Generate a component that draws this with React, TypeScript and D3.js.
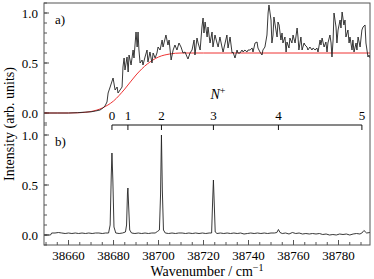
import React from "react";
import * as d3 from "d3";

// ---- data ----
const topWn = [38649.0,38655,38660,38664,38667,38670,38672,38674,38675.3,38676.2,38677.1,38677.6,38678.5,38679.8,38680.7,38681.6,38682.0,38683.8,38684.2,38684.7,38685.1,38686.0,38686.5,38686.9,38687.8,38688.7,38689.1,38690.0,38690.5,38690.9,38691.3,38691.8,38692.7,38693.1,38694.0,38694.9,38695.3,38696.2,38697.1,38697.6,38698.5,38699.3,38699.8,38700.7,38701.6,38702.0,38703.3,38704.2,38704.7,38705.6,38706.5,38707.3,38708.2,38709.1,38710.0,38710.9,38711.8,38712.7,38713.1,38714.0,38714.9,38715.8,38716.2,38717.1,38717.6,38718.5,38719.3,38719.8,38720.2,38720.7,38721.6,38722.0,38722.9,38723.8,38724.2,38725.1,38726.0,38726.5,38727.3,38728.2,38728.7,38729.6,38730.4,38730.9,38731.8,38732.7,38733.1,38734.0,38734.9,38735.3,38736.2,38737.1,38737.6,38738.4,38739.3,38739.8,38740.7,38741.6,38742.0,38742.9,38743.8,38744.2,38745.1,38746.0,38746.4,38747.3,38748.2,38748.7,38749.1,38750.0,38750.4,38750.9,38751.3,38752.2,38752.7,38753.1,38753.6,38754.4,38754.9,38755.3,38756.2,38756.7,38757.1,38758.0,38758.4,38759.3,38759.8,38760.7,38761.6,38762.0,38762.4,38763.3,38763.8,38764.7,38765.1,38766.0,38766.4,38767.3,38768.2,38768.7,38769.6,38770.4,38770.9,38771.8,38772.2,38772.7,38773.6,38774.4,38774.9,38775.3,38776.2,38776.7,38777.1,38777.6,38778.0,38778.9,38779.3,38779.8,38780.7,38781.1,38781.6,38782.4,38782.9,38783.3,38784.2,38784.7,38785.1,38786.0,38786.4,38786.9,38787.8,38788.2,38788.7,38789.6,38790.4,38790.9,38791.8,38792.2,38793.1,38793.6,38794.0];
const topVal = [0.0,0.0,0.0,0.003,0.008,0.012,0.02,0.03,0.05,0.07,0.11,0.2,0.26,0.35,0.23,0.26,0.20,0.26,0.46,0.55,0.43,0.56,0.41,0.58,0.48,0.63,0.55,0.81,0.66,0.81,0.63,0.50,0.53,0.48,0.56,0.63,0.51,0.61,0.50,0.60,0.55,0.60,0.66,0.63,0.73,0.66,0.78,0.68,0.73,0.53,0.63,0.68,0.63,0.70,0.66,0.60,0.61,0.56,0.54,0.60,0.63,0.73,0.58,0.75,0.70,0.63,0.86,0.95,0.80,0.91,0.76,0.86,0.70,0.81,0.66,0.78,0.70,0.66,0.76,0.66,0.61,0.70,0.78,0.65,0.76,0.60,0.61,0.55,0.63,0.60,0.60,0.63,0.61,0.63,0.61,0.63,0.63,0.65,0.61,0.70,0.71,0.65,0.61,0.58,0.63,0.66,0.78,1.00,1.08,0.93,0.70,0.78,0.96,0.83,0.76,0.91,0.88,0.73,0.80,0.70,0.76,0.61,0.71,0.65,0.75,0.70,0.78,0.70,0.85,0.76,0.63,0.76,0.63,0.70,0.68,0.66,0.63,0.66,0.63,0.65,0.63,0.65,0.61,0.73,0.68,0.75,0.66,0.71,0.61,0.70,0.78,0.70,0.56,0.73,1.00,0.86,0.70,0.83,0.93,0.85,1.01,0.88,0.93,0.76,0.83,0.70,0.76,0.63,0.73,0.61,0.70,0.63,0.76,0.66,0.83,0.86,0.88,0.70,0.56,0.58,0.55];

const fitWn = [38649,38660,38665,38670,38675,38680,38685,38690,38695,38700,38705,38710,38720,38794];
const fitVal = [0.0,0.0,0.003,0.015,0.05,0.12,0.24,0.38,0.49,0.56,0.59,0.6,0.6,0.6];

const botWn = [38649,38651,38652,38652.5,38654,38655.5,38657,38658.5,38660,38661.5,38663,38664.5,38666,38667.5,38669,38670.5,38672,38673.5,38675,38676.5,38677.8,38678.5,38679.0,38679.3,38679.7,38680.2,38681,38682.5,38684,38685.3,38685.8,38686.2,38686.4,38686.7,38687.2,38688,38689.5,38691,38692.5,38694,38695.5,38697,38698.5,38699.5,38700.4,38700.9,38701.3,38701.7,38702.2,38703,38704.5,38706,38707.5,38709,38710.5,38712,38713.5,38715,38716.5,38718,38719.5,38721,38722.5,38723.6,38724.0,38724.4,38724.8,38725.2,38726,38727.5,38729,38730.5,38732,38733.5,38735,38736.5,38738,38739.5,38741,38742.5,38744,38745.5,38747,38748.5,38750,38751.5,38752.6,38753.3,38754.0,38755,38756.5,38758,38759.5,38761,38762.5,38764,38765.5,38767,38768.5,38770,38771.5,38773,38774.5,38776,38777.5,38779,38780.5,38782,38783.5,38785,38786.5,38788,38789.5,38790.4,38791.3,38792.5,38794];
const botVal = [0.0,0.0,0.0,0.02,0.02,0.025,0.02,0.015,0.02,0.015,0.02,0.015,0.02,0.015,0.02,0.015,0.02,0.02,0.015,0.02,0.02,0.1,0.6,0.82,0.55,0.08,0.02,0.015,0.02,0.03,0.1,0.42,0.47,0.3,0.05,0.02,0.015,0.02,0.015,0.02,0.015,0.02,0.02,0.035,0.05,0.4,1.0,0.45,0.05,0.02,0.015,0.02,0.015,0.02,0.02,0.015,0.02,0.015,0.02,0.015,0.02,0.015,0.02,0.02,0.3,0.55,0.3,0.03,0.015,0.02,0.015,0.02,0.015,0.02,0.015,0.02,0.01,0.015,0.02,0.015,0.02,0.015,0.02,0.015,0.02,0.02,0.025,0.055,0.025,0.015,0.02,0.01,0.025,0.015,0.02,0.01,0.015,0.01,0.015,0.01,0.015,0.005,0.01,0.0,0.005,0.0,0.01,0.005,0.01,0.0,0.01,0.015,0.01,0.02,0.045,0.02,0.025,0.02];

const nLabels = ["0","1","2","3","4","5"];
const nWn = [38679.3,38686.4,38701.3,38724.4,38753.3,38790.4];

const xTicks = [38660,38680,38700,38720,38740,38760,38780];
const yTicks = [0,0.5,1.0];

const FONT = '"Liberation Serif", "Times New Roman", Times, "DejaVu Serif", serif';

export default function App() {
  const W = 374, H = 279;
  const L = 44, R = 370, T = 3, B = 245;
  const x = d3.scaleLinear().domain([38649.1, 38794.0]).range([L, R]);
  const yTop = d3.scaleLinear().domain([-0.1, 1.1]).range([123, T]);
  const yBot = d3.scaleLinear().domain([-0.1, 1.1]).range([B, 125]);

  const lineTop = d3.line<number>().x((_, i) => x(topWn[i])).y((d) => yTop(d));
  const lineFit = d3.line<number>().x((_, i) => x(fitWn[i])).y((d) => yTop(d)).curve(d3.curveMonotoneX);
  const lineBot = d3.line<number>().x((_, i) => x(botWn[i])).y((d) => yBot(d));

  const minorY = d3.range(-1, 12).map((k) => k / 10);
  const minorX = d3.range(38650, 38795, 5);
  const frameC = "#555";
  const ts = { fontFamily: FONT };

  return (
    <svg width={W} height={H} style={{ position: "absolute", left: 0, top: 0, background: "#fff", fontFamily: FONT }}>
      <defs>
        <clipPath id="cTop"><rect x={L} y={T} width={R - L} height={123 - T} /></clipPath>
        <clipPath id="cBot"><rect x={L} y={125} width={R - L} height={B - 125} /></clipPath>
      </defs>
      {[yTop, yBot].map((ys, p) => (
        <g key={p}>
          {minorY.map((v) => (
            <line key={"m" + v} x1={L} x2={L + 3} y1={ys(v)} y2={ys(v)} stroke={frameC} strokeWidth={1} />
          ))}
          {yTicks.map((v) => (
            <g key={v}>
              <line x1={L} x2={L + 5} y1={ys(v)} y2={ys(v)} stroke={frameC} strokeWidth={1} />
              <text x={L - 6} y={ys(v)} dy="0.35em" textAnchor="end" fontSize={13} style={ts}>{v.toFixed(1)}</text>
            </g>
          ))}
        </g>
      ))}
      {minorX.map((v) => (
        <line key={"mx" + v} x1={x(v)} x2={x(v)} y1={B} y2={B - 3} stroke={frameC} strokeWidth={1} />
      ))}
      {xTicks.map((v) => (
        <g key={v}>
          <line x1={x(v)} x2={x(v)} y1={B} y2={B - 5} stroke={frameC} strokeWidth={1} />
          <text x={x(v)} y={B + 15} textAnchor="middle" fontSize={13} style={ts}>{v}</text>
        </g>
      ))}
      <path d={lineFit(fitVal) || ""} fill="none" stroke="#ee3333" strokeWidth={1} clipPath="url(#cTop)" />
      <path d={lineTop(topVal) || ""} fill="none" stroke="#222" strokeWidth={0.9} clipPath="url(#cTop)" />
      <path d={lineBot(botVal) || ""} fill="none" stroke="#222" strokeWidth={0.9} clipPath="url(#cBot)" />
      <line x1={x(nWn[0])} x2={x(nWn[nWn.length - 1])} y1={125} y2={125} stroke="#111" strokeWidth={1} />
      {nWn.map((w, i) => (
        <g key={i}>
          <line x1={x(w)} x2={x(w)} y1={125} y2={130} stroke="#111" strokeWidth={1} />
          <text x={x(w)} y={120} textAnchor="middle" fontSize={13} style={ts}>{nLabels[i]}</text>
        </g>
      ))}
      <text x={218} y={99} textAnchor="middle" fontSize={14} fontStyle="italic" style={ts}>
        N<tspan dy={-5} fontSize={10} fontStyle="normal">+</tspan>
      </text>
      <text x={55} y={24} fontSize={13} style={ts}>a)</text>
      <text x={55} y={146} fontSize={13} style={ts}>b)</text>
      <rect x={L} y={T} width={R - L} height={B - T} fill="none" stroke={frameC} strokeWidth={1} />
      <text transform={`translate(14,124) rotate(-90)`} textAnchor="middle" fontSize={14} style={ts}>Intensity (arb. units)</text>
      <text x={207} y={276} textAnchor="middle" fontSize={14} style={ts}>
        Wavenumber / cm<tspan dy={-5} fontSize={10}>−1</tspan>
      </text>
    </svg>
  );
}
